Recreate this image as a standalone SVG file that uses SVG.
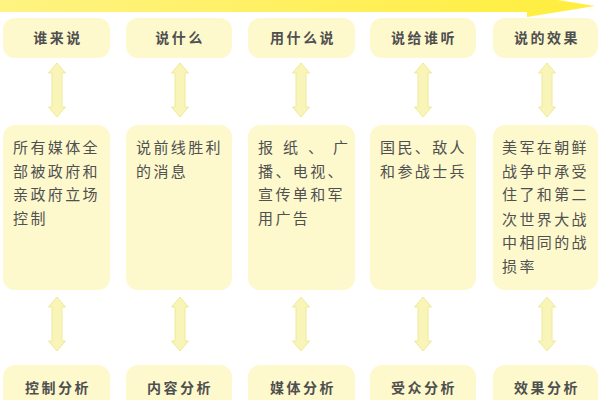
<svg xmlns="http://www.w3.org/2000/svg" width="600" height="400" viewBox="0 0 600 400">
<defs>
<linearGradient id="barg" x1="0" y1="0" x2="1" y2="0">
<stop offset="0" stop-color="#fff382"/>
<stop offset="0.5" stop-color="#fff060"/>
<stop offset="1" stop-color="#ffee3c"/>
</linearGradient>
<path id="darr" d="M0,-27 L8.5,-17 L5,-17 L5,17 L8.5,17 L0,27 L-8.5,17 L-5,17 L-5,-17 L-8.5,-17 Z"/>
</defs>
<style>
.box{fill:#fdf9cd;}
.arr{fill:#f9f5b8;stroke:#efea98;stroke-width:1;}
.hd{font-family:"Noto Sans CJK SC","Noto Sans",sans-serif;font-size:14px;fill:#4f4f4f;letter-spacing:2.5px;text-anchor:middle;font-weight:bold;}
.bd{font-family:"Noto Sans CJK SC","Noto Sans",sans-serif;font-size:15px;fill:#505050;letter-spacing:2.4px;}
</style>
<rect width="600" height="400" fill="#ffffff"/>
<g id="timeline">
<path d="M0,0 L527,0 L527,-5 L595,6 L527,17 L527,12 L0,12 Z" fill="url(#barg)"/>
</g>
<g id="connectors">
<use href="#darr" class="arr" x="57" y="90"/>
<use href="#darr" class="arr" x="180" y="90"/>
<use href="#darr" class="arr" x="301" y="90"/>
<use href="#darr" class="arr" x="423" y="90"/>
<use href="#darr" class="arr" x="547" y="90"/>
<use href="#darr" class="arr" x="57" y="324"/>
<use href="#darr" class="arr" x="180" y="324"/>
<use href="#darr" class="arr" x="301" y="324"/>
<use href="#darr" class="arr" x="423" y="324"/>
<use href="#darr" class="arr" x="547" y="324"/>
</g>
<g id="top1"><rect class="box" x="3" y="18" width="107" height="40" rx="12"/><text class="hd" x="58" y="43">谁来说</text></g>
<g id="top2"><rect class="box" x="126" y="18" width="106" height="40" rx="12"/><text class="hd" x="180" y="43">说什么</text></g>
<g id="top3"><rect class="box" x="248" y="18" width="107" height="40" rx="12"/><text class="hd" x="303" y="43">用什么说</text></g>
<g id="top4"><rect class="box" x="370" y="18" width="106" height="40" rx="12"/><text class="hd" x="424" y="43">说给谁听</text></g>
<g id="top5"><rect class="box" x="493" y="18" width="105" height="40" rx="12"/><text class="hd" x="547" y="43">说的效果</text></g>
<g id="mid1"><rect class="box" x="3" y="125" width="107" height="165" rx="12"/>
<text class="bd"><tspan x="13" y="153">所有媒体全</tspan><tspan x="13" y="177">部被政府和</tspan><tspan x="13" y="200">亲政府立场</tspan><tspan x="13" y="224">控制</tspan></text></g>
<g id="mid2"><rect class="box" x="126" y="125" width="106" height="165" rx="12"/>
<text class="bd"><tspan x="136" y="153">说前线胜利</tspan><tspan x="136" y="177">的消息</tspan></text></g>
<g id="mid3"><rect class="box" x="248" y="125" width="107" height="165" rx="12"/>
<text class="bd"><tspan x="258 283 308 333" y="153">报纸、广</tspan><tspan x="258" y="177">播、电视、</tspan><tspan x="258" y="200">宣传单和军</tspan><tspan x="258" y="224">用广告</tspan></text></g>
<g id="mid4"><rect class="box" x="370" y="125" width="106" height="165" rx="12"/>
<text class="bd"><tspan x="380" y="153">国民、敌人</tspan><tspan x="380" y="177">和参战士兵</tspan></text></g>
<g id="mid5"><rect class="box" x="493" y="125" width="105" height="165" rx="12"/>
<text class="bd"><tspan x="502" y="153">美军在朝鲜</tspan><tspan x="502" y="177">战争中承受</tspan><tspan x="502" y="200">住了和第二</tspan><tspan x="502" y="225">次世界大战</tspan><tspan x="502" y="248">中相同的战</tspan><tspan x="502" y="272">损率</tspan></text></g>
<g id="bot1"><rect class="box" x="3" y="365" width="107" height="50" rx="12"/><text class="hd" x="58" y="393">控制分析</text></g>
<g id="bot2"><rect class="box" x="126" y="365" width="106" height="50" rx="12"/><text class="hd" x="180" y="393">内容分析</text></g>
<g id="bot3"><rect class="box" x="248" y="365" width="107" height="50" rx="12"/><text class="hd" x="303" y="393">媒体分析</text></g>
<g id="bot4"><rect class="box" x="370" y="365" width="106" height="50" rx="12"/><text class="hd" x="424" y="393">受众分析</text></g>
<g id="bot5"><rect class="box" x="493" y="365" width="105" height="50" rx="12"/><text class="hd" x="547" y="393">效果分析</text></g>
</svg>
